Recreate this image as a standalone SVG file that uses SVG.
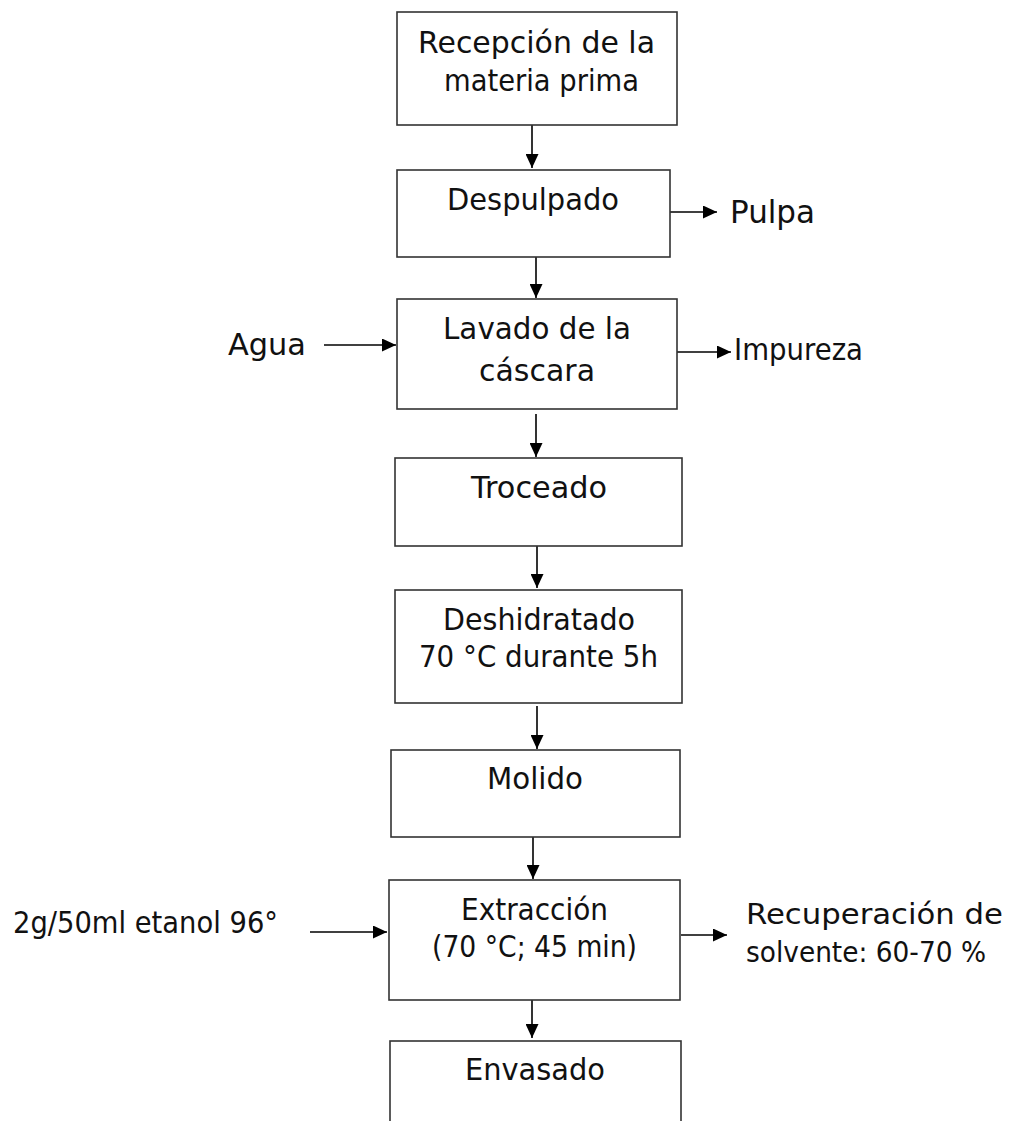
<svg xmlns="http://www.w3.org/2000/svg" width="1010" height="1121" viewBox="0 0 1010 1121">
<defs>
<marker id="ah" markerUnits="userSpaceOnUse" markerWidth="15" markerHeight="13" refX="14" refY="6.5" orient="auto">
<path d="M0,0 L14,6.5 L0,13 z" fill="#000"/>
</marker>
<style>
.box{fill:#fff;stroke:#333;stroke-width:1.6}
.t{font-family:"DejaVu Sans","Liberation Sans",sans-serif;font-size:29.5px;fill:#111}
.big{font-size:32px}
.sm{font-size:28px}
.c{stroke:#000;stroke-width:1.6;fill:none;marker-end:url(#ah)}
</style>
</defs>
<rect width="1010" height="1121" fill="#fff"/>
<g id="connectors">
<line class="c" x1="532" y1="125" x2="532" y2="168"/>
<line class="c" x1="536" y1="257" x2="536" y2="298"/>
<line class="c" x1="536" y1="414" x2="536" y2="457"/>
<line class="c" x1="537" y1="546" x2="537" y2="588"/>
<line class="c" x1="537" y1="706" x2="537" y2="749"/>
<line class="c" x1="533" y1="837" x2="533" y2="879"/>
<line class="c" x1="532" y1="993" x2="532" y2="1038"/>
<line class="c" x1="670" y1="212" x2="717" y2="212"/>
<line class="c" x1="324" y1="345" x2="396" y2="345"/>
<line class="c" x1="677" y1="352" x2="731" y2="352"/>
<line class="c" x1="310" y1="932" x2="387" y2="932"/>
<line class="c" x1="681" y1="935" x2="727" y2="935"/>
</g>
<g id="n1">
<rect class="box" x="397" y="12" width="280" height="113"/>
<text class="t" x="418" y="53" textLength="237" lengthAdjust="spacingAndGlyphs">Recepción de la</text>
<text class="t" x="444" y="91" textLength="195" lengthAdjust="spacingAndGlyphs">materia prima</text>
</g>
<g id="n2">
<rect class="box" x="397" y="170" width="273" height="87"/>
<text class="t" x="447" y="210" textLength="172" lengthAdjust="spacingAndGlyphs">Despulpado</text>
</g>
<g id="pulpa">
<text class="t big" x="730" y="223" textLength="85" lengthAdjust="spacingAndGlyphs">Pulpa</text>
</g>
<g id="n3">
<rect class="box" x="397" y="299" width="280" height="110"/>
<text class="t" x="443" y="339" textLength="188" lengthAdjust="spacingAndGlyphs">Lavado de la</text>
<text class="t" x="479" y="381" textLength="116" lengthAdjust="spacingAndGlyphs">cáscara</text>
</g>
<g id="agua">
<text class="t" x="228" y="355" textLength="78" lengthAdjust="spacingAndGlyphs">Agua</text>
</g>
<g id="impureza">
<text class="t" x="734" y="360" textLength="129" lengthAdjust="spacingAndGlyphs">Impureza</text>
</g>
<g id="n4">
<rect class="box" x="395" y="458" width="287" height="88"/>
<text class="t" x="471" y="498" textLength="136" lengthAdjust="spacingAndGlyphs">Troceado</text>
</g>
<g id="n5">
<rect class="box" x="395" y="590" width="287" height="113"/>
<text class="t" x="443" y="630" textLength="192" lengthAdjust="spacingAndGlyphs">Deshidratado</text>
<text class="t" x="419" y="667" textLength="239" lengthAdjust="spacingAndGlyphs">70 °C durante 5h</text>
</g>
<g id="n6">
<rect class="box" x="391" y="750" width="289" height="87"/>
<text class="t" x="487" y="789" textLength="96" lengthAdjust="spacingAndGlyphs">Molido</text>
</g>
<g id="n7">
<rect class="box" x="389" y="880" width="291" height="120"/>
<text class="t" x="461" y="920" textLength="147" lengthAdjust="spacingAndGlyphs">Extracción</text>
<text class="t" x="432" y="957" textLength="205" lengthAdjust="spacingAndGlyphs">(70 °C; 45 min)</text>
</g>
<g id="etanol">
<text class="t" x="13" y="933" textLength="265" lengthAdjust="spacingAndGlyphs">2g/50ml etanol 96°</text>
</g>
<g id="recuperacion">
<text class="t sm" x="746" y="924" textLength="257" lengthAdjust="spacingAndGlyphs">Recuperación de</text>
<text class="t sm" x="746" y="962" textLength="240" lengthAdjust="spacingAndGlyphs">solvente: 60-70 %</text>
</g>
<g id="n8">
<rect class="box" x="390" y="1041" width="291" height="100"/>
<text class="t" x="465" y="1080" textLength="140" lengthAdjust="spacingAndGlyphs">Envasado</text>
</g>
</svg>
